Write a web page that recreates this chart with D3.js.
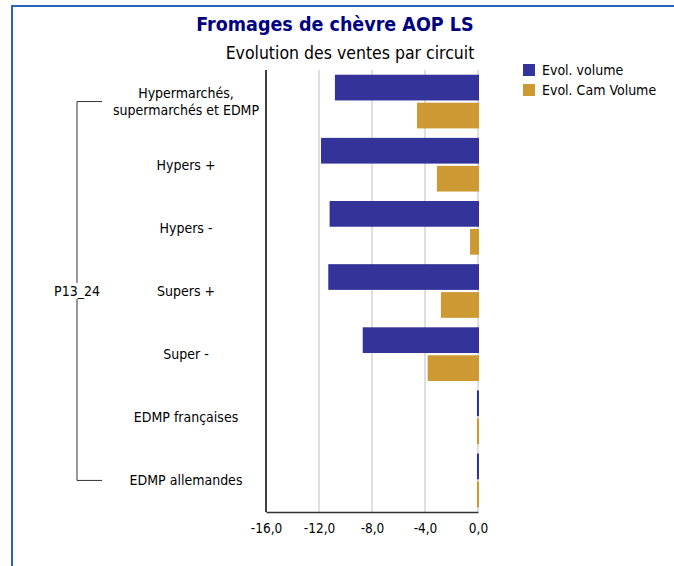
<!DOCTYPE html>
<html>
<head>
<meta charset="utf-8">
<script src="https://cdn.jsdelivr.net/npm/d3@7"></script>
<style>
  html, body { margin: 0; padding: 0; background: #fff; }
  svg { display: block; }
  text { font-family: "DejaVu Sans Condensed", "DejaVu Sans", sans-serif; font-stretch: condensed; }
</style>
</head>
<body>
<svg id="chart" width="674" height="566"></svg>
<script>
// ---- data ----
const categories = [
  "Hypermarchés,\nsupermarchés et EDMP",
  "Hypers +",
  "Hypers -",
  "Supers +",
  "Super -",
  "EDMP françaises",
  "EDMP allemandes"
];
const seriesNames = ["Evol. volume", "Evol. Cam Volume"];
const evolVolume    = [-10.8, -11.85, -11.2, -11.3, -8.7, -0.08, -0.08];
const evolCamVolume = [-4.6, -3.1, -0.6, -2.8, -3.8, -0.08, -0.08];
const tickValues = [-16, -12, -8, -4, 0];
const groupLabel = "P13_24";
const title = "Fromages de chèvre AOP LS";
const subtitle = "Evolution des ventes par circuit";
const colors = ["#333399", "#CC9933"];

// ---- drawing ----
const svg = d3.select("#chart");
const W = 674, H = 566;
const plot = { left: 266, right: 478, top: 70, bottom: 512 };

// frame
svg.append("line").attr("x1", 11).attr("x2", W).attr("y1", 6).attr("y2", 6)
  .attr("stroke", "#2566b6").attr("stroke-width", 2);
svg.append("line").attr("x1", 12).attr("x2", 12).attr("y1", 5).attr("y2", H)
  .attr("stroke", "#2566b6").attr("stroke-width", 2);

// titles
svg.append("text").attr("x", 335).attr("y", 31).attr("text-anchor", "middle")
  .attr("font-size", 19.5).attr("font-weight", "bold").attr("fill", "#000080")
  .text(title);
svg.append("text").attr("x", 350).attr("y", 59).attr("text-anchor", "middle")
  .attr("font-size", 17.5).attr("fill", "#000")
  .text(subtitle);

const x = d3.scaleLinear().domain([-16, 0]).range([plot.left, plot.right]);
const y0 = d3.scaleBand().domain(categories).range([plot.top, plot.bottom])
  .paddingInner(0.15).paddingOuter(0.075);
const y1 = d3.scaleBand().domain(seriesNames).range([0, y0.bandwidth()]).paddingInner(0.08);

// gridlines
svg.append("g").selectAll("line").data(tickValues.filter(d => d !== -16)).join("line")
  .attr("x1", d => x(d)).attr("x2", d => x(d))
  .attr("y1", plot.top).attr("y2", plot.bottom)
  .attr("stroke", "#d4d4d4").attr("stroke-width", 1.5);

// bars
const rows = categories.map((c, i) => ({ cat: c, vals: [evolVolume[i], evolCamVolume[i]] }));
const g = svg.append("g").selectAll("g").data(rows).join("g")
  .attr("transform", d => `translate(0,${y0(d.cat)})`);
g.selectAll("rect").data(d => d.vals.map((v, j) => ({ v, s: seriesNames[j], j }))).join("rect")
  .attr("x", d => x(Math.min(0, d.v)))
  .attr("width", d => Math.abs(x(d.v) - x(0)) + 1)
  .attr("y", d => y1(d.s))
  .attr("height", y1.bandwidth())
  .attr("fill", d => colors[d.j]);

// x axis
const loc = d3.formatLocale({ decimal: ",", thousands: " ", grouping: [3], currency: ["", "€"], minus: "-" });
const fmt = loc.format(".1f");
const xAxis = svg.append("g").attr("transform", `translate(0,${plot.bottom})`)
  .call(d3.axisBottom(x).tickValues(tickValues).tickFormat(fmt).tickSize(0).tickPadding(11));
xAxis.select(".domain").attr("stroke", "#333").attr("stroke-width", 1.5);
xAxis.selectAll("text").attr("font-size", 13.5).attr("fill", "#000")
  .attr("font-family", null);

// y axis line
svg.append("line").attr("x1", plot.left).attr("x2", plot.left)
  .attr("y1", plot.top).attr("y2", plot.bottom)
  .attr("stroke", "#000").attr("stroke-width", 1.5);

// category labels
const labels = svg.append("g").selectAll("text").data(categories).join("text")
  .attr("x", 186).attr("text-anchor", "middle").attr("font-size", 14).attr("fill", "#000")
  .attr("y", d => y0(d) + y0.bandwidth() / 2);
labels.each(function(d) {
  const lines = d.split("\n");
  const t = d3.select(this);
  lines.forEach((ln, i) => {
    t.append("tspan").attr("x", 186)
      .attr("dy", i === 0 ? `${0.35 - (lines.length - 1) * 0.63}em` : "1.26em")
      .text(ln);
  });
});

// bracket
const yTop = y0(categories[0]) + y0.bandwidth() / 2;
const yBot = y0(categories[categories.length - 1]) + y0.bandwidth() / 2;
const bx = 77;
svg.append("path")
  .attr("d", `M${bx + 25},${yTop}H${bx}V${yBot}H${bx + 25}`)
  .attr("fill", "none").attr("stroke", "#333").attr("stroke-width", 1);
const gl = svg.append("text").attr("x", bx).attr("y", (yTop + yBot) / 2).attr("dy", "0.35em")
  .attr("text-anchor", "middle").attr("font-size", 14).text(groupLabel);
const bb = gl.node().getBBox();
svg.append("rect")
  .attr("x", bb.x - 1).attr("y", bb.y).attr("width", bb.width + 2).attr("height", bb.height)
  .attr("fill", "#fff");
gl.raise();

// legend
const leg = svg.append("g").selectAll("g").data(seriesNames).join("g")
  .attr("transform", (d, i) => `translate(523,${64 + i * 20})`);
leg.append("rect").attr("width", 12).attr("height", 12).attr("fill", (d, i) => colors[i]);
leg.append("text").attr("x", 19).attr("y", 6).attr("dy", "0.35em")
  .attr("font-size", 14).attr("fill", "#000").text(d => d);
</script>
</body>
</html>
